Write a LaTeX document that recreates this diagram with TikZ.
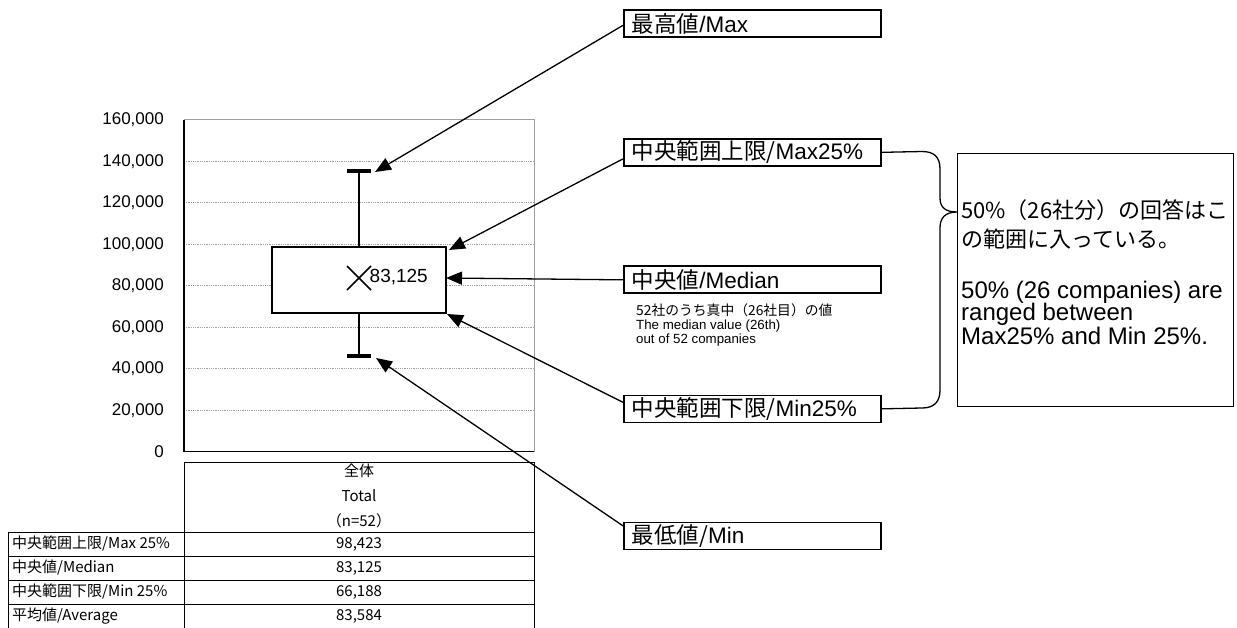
\documentclass[tikz,border=0pt]{standalone}
\usepackage{fontspec}
\setmainfont{Liberation Sans}
\newfontfamily\jp{Noto Sans CJK JP}
\usetikzlibrary{arrows.meta}
\begin{document}
\begin{tikzpicture}[x=1pt,y=-1pt,
  gridline/.style={gray!75, line width=0.9pt, dash pattern=on 1pt off 0.8pt},
  axislbl/.style={anchor=east, inner sep=0pt, font=\fontsize{17}{20}\selectfont},
  callout/.style={draw, line width=1.7pt, anchor=north west, minimum width=257pt, minimum height=27pt,
     text width=241pt, inner xsep=8pt, inner ysep=0pt, align=left, font=\fontsize{22.5}{25}\selectfont},
  pointer/.style={line width=1.3pt, -{Triangle[length=16pt,width=13pt]}},
  tbl/.style={line width=0.9pt},
  tbltxt/.style={inner sep=0pt, font=\jp\fontsize{15}{17}\selectfont},
  bracejp/.style={anchor=west, inner sep=0pt, font=\jp\fontsize{22}{24}\selectfont},
  braceen/.style={anchor=west, inner sep=0pt, font=\fontsize{24}{24}\selectfont}
]
\useasboundingbox (0,0) rectangle (1237,628);

% ---- grid and axes ----
\foreach \k in {1,...,7} {
  \draw[gridline] (184,{451.7-\k*41.5}) -- (534,{451.7-\k*41.5});
}
\draw[gray!75, line width=0.9pt] (184,119.7) -- (534,119.7) -- (534,451.7);
\draw[line width=1.2pt] (184,119.7) -- (184,451.7) -- (534,451.7);

\foreach \v/\t in {0/0,1/{20,000},2/{40,000},3/{60,000},4/{80,000},5/{100,000},6/{120,000},7/{140,000},8/{160,000}} {
  \node[axislbl] (ylab\v) at (164,{451.7-\v*41.5}) {\t};
}

% ---- box plot ----
\draw[line width=1.4pt] (359,171) -- (359,247);
\draw[line width=1.4pt] (359,313.5) -- (359,356);
\draw[line width=4.5pt] (347,171) -- (371,171);
\draw[line width=4.5pt] (347,356) -- (371,356);
\draw[line width=2pt, fill=white] (271.5,247) rectangle (445.5,313.5);
\draw[line width=1.6pt] (347,266) -- (371,290) (347,290) -- (371,266);
\node[anchor=west, inner sep=0pt, font=\fontsize{19}{22}\selectfont] (medval) at (369.5,277) {83,125};

\coordinate (pmax) at (375,172);
\coordinate (pq3) at (449,250);
\coordinate (pmed) at (446,278);
\coordinate (pq1) at (447,314);
\coordinate (pmin) at (376,358);

% ---- callouts ----
\node[callout] (cmax) at (623,9.5) {{\jp 最高値}/Max};
\node[callout] (cq3) at (623,138) {{\jp 中央範囲上限/}Max25\%};
\node[callout] (cmed) at (623,265.5) {{\jp 中央値}/Median};
\node[callout] (cq1) at (623,394.5) {{\jp 中央範囲下限/}Min25\%};
\node[callout] (cmin) at (623,521.5) {{\jp 最低値/}Min};

\node[anchor=north west, inner sep=0pt, align=left, font=\fontsize{13.3}{14}\selectfont] (mednote) at (636,303.5)
  {{\jp\fontsize{13.8}{14}\selectfont 52社のうち真中（26社目）の値}\\The median value (26th)\\out of 52 companies};

\draw[pointer] ([yshift=-1.5pt]cmax.west) -- (pmax);
\draw[pointer] ([yshift=-6.5pt]cq3.west) -- (pq3);
\draw[pointer] (cmed.west) -- (pmed);
\draw[pointer] ([yshift=6.5pt]cq1.west) -- (pq1);
\draw[pointer] ([yshift=10pt]cmin.west) -- (pmin);

% ---- brace ----
\draw[line width=1.3pt] (cq3.east) -- (922,151.5)
  .. controls (934,151.5) and (940,157) .. (940,169) -- (940,198)
  .. controls (940,207) and (945,212) .. (957,212)
  .. controls (945,212) and (940,218) .. (940,228) -- (940,390)
  .. controls (940,402) and (934,408) .. (922,408) -- (cq1.east);

\node[draw, line width=1.4pt, anchor=north west, minimum width=276pt, minimum height=253pt, inner sep=0pt] (note) at (957,153) {};
\node[bracejp] (n1) at (961,210) {50\%（26社分）の回答はこ};
\node[bracejp] (n2) at (961,239) {の範囲に入っている。};
\node[braceen] (n3) at (961,292) {50\% (26 companies) are};
\node[braceen] (n4) at (961,314) {ranged between};
\node[braceen] (n5) at (961,336) {Max25\% and Min 25\%.};

% ---- table ----
\draw[tbl] (184,628) -- (184,462) -- (534,462) -- (534,628);
\draw[tbl] (8,532) -- (534,532);
\draw[tbl] (8,556) -- (534,556);
\draw[tbl] (8,580) -- (534,580);
\draw[tbl] (8,604) -- (534,604);
\draw[tbl] (8,532) -- (8,628);
\node[tbltxt] (h1) at (359,471) {全体};
\node[tbltxt] (h2) at (359,496) {Total};
\node[tbltxt] (h3) at (359,521) {（n=52）};
\node[tbltxt, anchor=west] (r1) at (12,544) {中央範囲上限/Max 25\%};
\node[tbltxt, anchor=west] (r2) at (12,568) {中央値/Median};
\node[tbltxt, anchor=west] (r3) at (12,592) {中央範囲下限/Min 25\%};
\node[tbltxt, anchor=west] (r4) at (12,616) {平均値/Average};
\node[tbltxt] (v1) at (359,544) {98,423};
\node[tbltxt] (v2) at (359,568) {83,125};
\node[tbltxt] (v3) at (359,592) {66,188};
\node[tbltxt] (v4) at (359,616) {83,584};
\end{tikzpicture}
\end{document}
